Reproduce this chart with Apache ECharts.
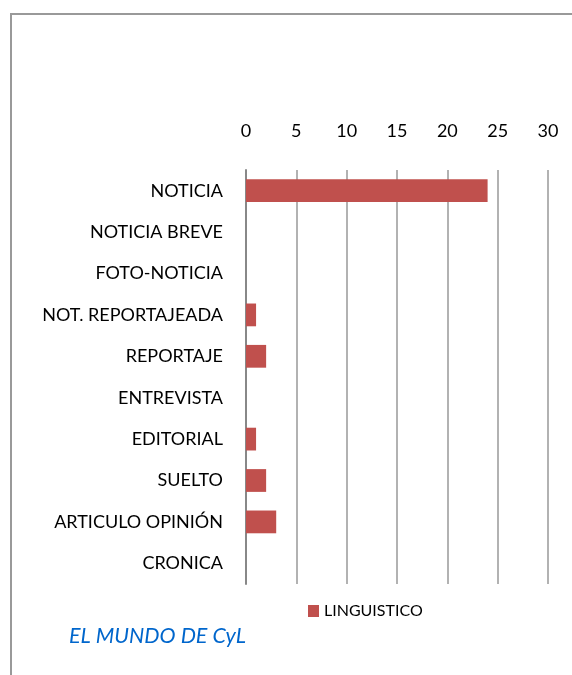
<!DOCTYPE html>
<html>
<head>
<meta charset="utf-8">
<script src="https://cdn.jsdelivr.net/npm/echarts@6/dist/echarts.min.js"></script>
<style>
  html, body { margin: 0; padding: 0; background: #fff; }
  #chart { width: 572px; height: 675px; }
</style>
</head>
<body>
<div id="chart"></div>
<script>
// data
var categories = ['NOTICIA', 'NOTICIA BREVE', 'FOTO-NOTICIA', 'NOT. REPORTAJEADA', 'REPORTAJE',
                  'ENTREVISTA', 'EDITORIAL', 'SUELTO', 'ARTICULO OPINIÓN', 'CRONICA'];
var linguistico = [24, 0, 0, 1, 2, 0, 1, 2, 3, 0];
var seriesName = 'LINGUISTICO';
var chartTitle = 'EL MUNDO DE CyL';

var font = 'Lato';
var chart = echarts.init(document.getElementById('chart'));
var option = {};

option['animation'] = false;

option['title'] = {
    text: chartTitle,
    left: 64,
    top: 620,
    textStyle: {
        fontFamily: font,
        fontSize: 21.5,
        fontStyle: 'italic',
        fontWeight: 'normal',
        color: '#0066CC'
    }
};

option['legend'] = {
    data: [seriesName],
    left: 303,
    top: 598,
    itemWidth: 11,
    itemHeight: 12,
    itemGap: 5,
    icon: 'rect',
    textStyle: { fontFamily: font, fontSize: 16, color: '#000' }
};

option['grid'] = {
    left: 246,
    right: 24,
    top: 170,
    bottom: 91,
    containLabel: false
};

option['xAxis'] = {
    type: 'value',
    position: 'top',
    min: 0,
    max: 30,
    interval: 5,
    axisLine: { show: false },
    axisTick: { show: false },
    axisLabel: { margin: 30, fontFamily: font, fontSize: 18, color: '#000' },
    splitLine: { lineStyle: { color: '#999', width: 1.5 } }
};

option['yAxis'] = {
    type: 'category',
    inverse: true,
    data: categories,
    axisLine: { lineStyle: { color: '#888', width: 2 } },
    axisTick: { show: false },
    axisLabel: { margin: 23, fontFamily: font, fontSize: 18, color: '#000', padding: [7, 0, 0, 0] }
};

option['series'] = [{
    name: seriesName,
    type: 'bar',
    data: linguistico,
    barWidth: '55%',
    itemStyle: { color: '#C0504D' }
}];

option['graphic'] = [{
    type: 'polyline',
    shape: { points: [[11, 675], [11, 14], [572, 14]] },
    style: { stroke: '#999', lineWidth: 2, fill: null },
    silent: true
}];

chart.setOption(option);
</script>
</body>
</html>
